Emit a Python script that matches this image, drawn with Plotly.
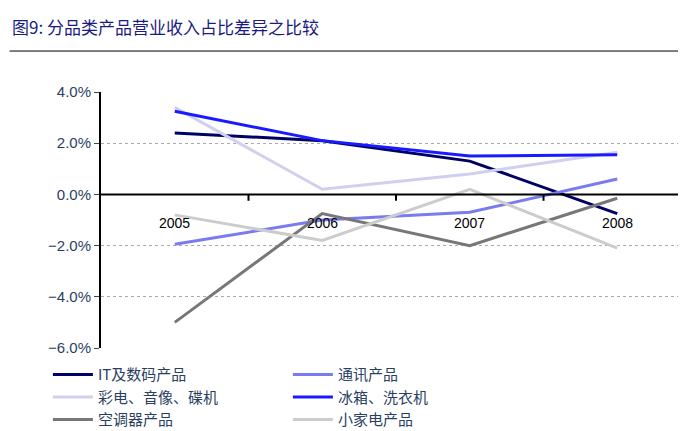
import plotly.graph_objects as go

years = ["2005", "2006", "2007", "2008"]
it_digital = [2.4, 2.1, 1.3, -0.75]
telecom = [-1.95, -1.0, -0.7, 0.6]
tv_audio = [3.4, 0.2, 0.8, 1.65]
fridge_washer = [3.25, 2.1, 1.5, 1.55]
aircon = [-5.0, -0.75, -2.0, -0.15]
small_appl = [-0.8, -1.8, 0.2, -2.1]

series = [
    ("IT及数码产品", it_digital, "#000066"),
    ("通讯产品", telecom, "#7b7bf0"),
    ("彩电、音像、碟机", tv_audio, "#d0d0ee"),
    ("冰箱、洗衣机", fridge_washer, "#1a1aff"),
    ("空调器产品", aircon, "#777777"),
    ("小家电产品", small_appl, "#cccccc"),
]

xs = list(range(len(years)))
fig = go.Figure()
for name, vals, col in series:
    fig.add_trace(go.Scatter(x=xs, y=[v / 100 for v in vals], name=name, mode="lines",
                             line=dict(color=col, width=3)))

# category labels under the zero line
for i, y in enumerate(years):
    fig.add_annotation(x=i, y=-0.011, text=y, showarrow=False,
                       font=dict(size=14, color="#000", family="Liberation Sans Narrow, Arial Narrow, Arial"))
# zero axis with tick marks between categories
fig.add_shape(type="line", x0=-0.5, x1=3.5, y0=0, y1=0, line=dict(color="black", width=2))
for t in [0.5, 1.5, 2.5, 3.5]:
    fig.add_shape(type="line", x0=t, x1=t, y0=0, y1=-0.0025, line=dict(color="black", width=2))

fig.add_annotation(xref="paper", yref="paper", x=-0.155, y=1.2, xanchor="left", yanchor="bottom",
                   text="图9: 分品类产品营业收入占比差异之比较", showarrow=False,
                   font=dict(size=17, color="#1a1a80", family="Noto Sans CJK SC"))
fig.add_shape(type="line", xref="paper", yref="paper", x0=-0.155, x1=1.01, y0=1.16, y1=1.16,
              line=dict(color="black", width=1))

fig.update_layout(
    width=686, height=431, margin=dict(l=93, r=3, t=84, b=87),
    plot_bgcolor="white", paper_bgcolor="white",
    xaxis=dict(range=[-0.5, 3.5], showticklabels=False, showgrid=False, zeroline=False),
    yaxis=dict(range=[-0.06, 0.04], dtick=0.02, tickformat=".1%", showgrid=True,
               gridcolor="#aaaaaa", griddash="dot", zeroline=False, showline=True,
               linecolor="black", linewidth=2, ticks="outside", ticklen=5,
               tickfont=dict(size=15, family="Liberation Sans Narrow, Arial Narrow, Arial")),
    showlegend=True,
    legend=dict(orientation="h", x=-0.09, y=-0.04, xanchor="left", yanchor="top",
                entrywidth=185, tracegroupgap=0, itemwidth=40,
                font=dict(size=15, family="Noto Sans CJK SC")),
)
fig.write_html("out.html")
